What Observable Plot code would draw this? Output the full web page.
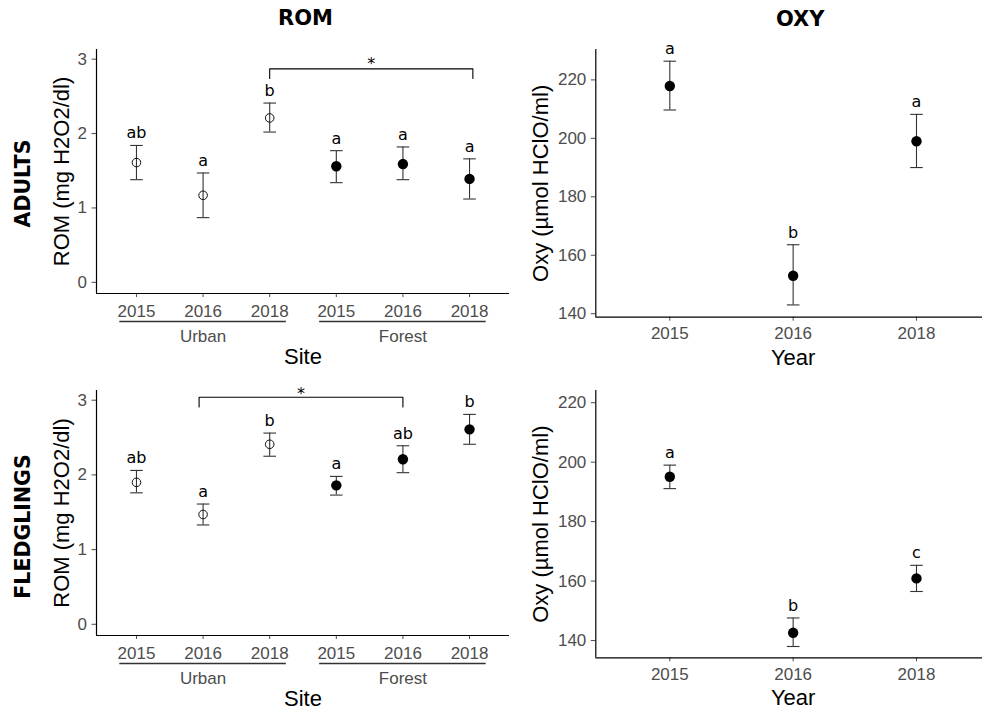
<!DOCTYPE html>
<html>
<head>
<meta charset="utf-8">
<script src="https://cdn.jsdelivr.net/npm/d3@7"></script>
<script src="https://cdn.jsdelivr.net/npm/@observablehq/plot@0.6"></script>
<style>
  html, body { margin: 0; padding: 0; background: #fff; overflow: hidden; }
  #chart { position: relative; width: 982px; height: 713px; overflow: hidden; background: #fff; }
  .panel { position: absolute; }
  .panel svg { max-width: none !important; }
</style>
</head>
<body>
<div id="chart"></div>
<script>
// ---------------- DATA ----------------
const romSites = ["Urban", "Urban", "Urban", "Forest", "Forest", "Forest"];
const romYears = ["2015", "2016", "2018", "2015", "2016", "2018"];

const adultsRomMean = [1.61, 1.17, 2.21, 1.56, 1.59, 1.39];
const adultsRomLow  = [1.38, 0.87, 2.02, 1.34, 1.38, 1.12];
const adultsRomHigh = [1.84, 1.47, 2.41, 1.77, 1.82, 1.66];
const adultsRomLetters = ["ab", "a", "b", "a", "a", "a"];

const fledgRomMean = [1.90, 1.47, 2.41, 1.86, 2.21, 2.61];
const fledgRomLow  = [1.76, 1.33, 2.25, 1.73, 2.03, 2.41];
const fledgRomHigh = [2.06, 1.61, 2.56, 1.98, 2.39, 2.81];
const fledgRomLetters = ["ab", "a", "b", "a", "ab", "b"];

const oxyYears = ["2015", "2016", "2018"];
const adultsOxyMean = [217.9, 153.0, 199.0];
const adultsOxyLow  = [209.7, 143.0, 190.0];
const adultsOxyHigh = [226.4, 163.6, 208.2];
const adultsOxyLetters = ["a", "b", "a"];

const fledgOxyMean = [195.1, 142.6, 160.9];
const fledgOxyLow  = [191.1, 138.0, 156.5];
const fledgOxyHigh = [199.0, 147.6, 165.3];
const fledgOxyLetters = ["a", "b", "c"];

// significance brackets (site positions 1..6)
const adultsBracket = {x1: 3, x2: 6.05, y: 2.87, tip: 2.74, starY: 3.00, label: "*"};
const fledgBracket  = {x1: 1.94, x2: 5, y: 3.04, tip: 2.91, starY: 3.14, label: "*"};

// site groups under the year labels
const groupNames = ["Urban", "Forest"];
const groupStart = [0.75, 3.75];
const groupEnd   = [3.25, 6.25];

const romTicks = [0, 1, 2, 3];
const oxyTicks = [140, 160, 180, 200, 220];

// ---------------- HELPERS ----------------
const SANS = "Liberation Sans, Arial, sans-serif";
const DEJA = "DejaVu Sans, Verdana, sans-serif";
const capSymbol = {
  draw(ctx, size) {
    const r = Math.sqrt(size / Math.PI);
    ctx.moveTo(-r, 0);
    ctx.lineTo(r, 0);
  }
};

function rows(sites, years, mean, low, high, letters) {
  return mean.map((m, i) => ({
    pos: i + 1, site: sites ? sites[i] : "Forest", year: years[i],
    mean: m, lo: low[i], hi: high[i], letter: letters[i]
  }));
}
function bracketPath(b) {
  return [
    {x: b.x1, y: b.tip}, {x: b.x1, y: b.y}, {x: b.x2, y: b.y}, {x: b.x2, y: b.tip}
  ];
}

function pointMarks(data) {
  return [
    Plot.ruleX(data, {x: "pos", y1: "lo", y2: "hi", stroke: "#333", strokeWidth: 1.1}),
    Plot.dot(data, {x: "pos", y: "hi", symbol: capSymbol, r: 6.3, fill: "none", stroke: "#333", strokeWidth: 1.1}),
    Plot.dot(data, {x: "pos", y: "lo", symbol: capSymbol, r: 6.3, fill: "none", stroke: "#333", strokeWidth: 1.1}),
    Plot.dot(data.filter(d => d.site === "Urban"), {x: "pos", y: "mean", r: 4.3, fill: "none", stroke: "#111", strokeWidth: 1}),
    Plot.dot(data.filter(d => d.site !== "Urban"), {x: "pos", y: "mean", r: 5.2, fill: "#000", stroke: "none"}),
    Plot.text(data, {x: "pos", y: "hi", text: "letter", lineAnchor: "bottom", dy: -7, fontSize: 16, fontFamily: DEJA, fill: "#000"})
  ];
}

const baseStyle = {fontFamily: SANS, fontSize: "17px", color: "#4d4d4d", background: "transparent", overflow: "visible", maxWidth: "none"};

function romPanel(data, bracket, opts) {
  const yDom = [-0.15, 3.13];
  const groups = groupNames.map((g, i) => ({site: g, start: groupStart[i], end: groupEnd[i]}));
  return Plot.plot({
    width: 510, height: opts.height,
    marginLeft: 96, marginRight: 1, marginTop: opts.top, marginBottom: opts.bottom,
    style: baseStyle,
    x: {domain: [0.4, 6.6], ticks: [1, 2, 3, 4, 5, 6], tickFormat: p => romYears[p - 1], tickSize: 4, tickPadding: 7, label: null},
    y: {domain: yDom, ticks: romTicks, tickFormat: d => String(d), tickSize: 4.5, tickPadding: 5, label: null},
    marks: [
      Plot.ruleX([0.4], {stroke: "#000", strokeWidth: 1.2}),
      Plot.ruleY([yDom[0]], {stroke: "#000", strokeWidth: 1.2}),
      ...pointMarks(data),
      Plot.line(bracketPath(bracket), {x: "x", y: "y", stroke: "#000", strokeWidth: 1.1}),
      Plot.text([bracket], {x: d => (d.x1 + d.x2) / 2, y: "starY", text: "label", lineAnchor: "bottom", dy: 9.4, fontSize: 16, fontFamily: DEJA, fill: "#000"}),
      Plot.ruleY(groups, {y: yDom[0], x1: "start", x2: "end", dy: 28, stroke: "#333", strokeWidth: 1.4}),
      Plot.text(groups, {x: d => (d.start + d.end) / 2, y: yDom[0], text: "site", lineAnchor: "top", dy: 36, fontSize: 17, fill: "#4d4d4d"}),
      Plot.text(["Site"], {frameAnchor: "bottom", text: d => d, textAnchor: "middle", lineAnchor: "top", dy: 55, fontSize: 22, fill: "#000"}),
      Plot.text(["ROM (mg H2O2/dl)"], {frameAnchor: "left", text: d => d, textAnchor: "middle", lineAnchor: "middle", rotate: -90, dx: -35, fontSize: 22, fill: "#000"}),
      Plot.text([opts.row], {frameAnchor: "left", text: d => d, textAnchor: "middle", lineAnchor: "middle", rotate: -90, dx: -73.5, dy: opts.rowDy, fontSize: 20.5, fontWeight: "bold", fontFamily: DEJA, fill: "#000"}),
      ...(opts.title ? [Plot.text([opts.title], {frameAnchor: "top", text: d => d, textAnchor: "middle", lineAnchor: "top", dy: -39, dx: 2.5, fontSize: 21, fontWeight: "bold", fontFamily: DEJA, fill: "#000"})] : [])
    ]
  });
}

function oxyPanel(data, yDom, opts) {
  return Plot.plot({
    width: 480, height: opts.height,
    marginLeft: 85.3, marginRight: 0, marginTop: opts.top, marginBottom: opts.bottom,
    style: baseStyle,
    x: {domain: [0.4, 3.6], ticks: [1, 2, 3], tickFormat: p => oxyYears[p - 1], tickSize: 4, tickPadding: 6, label: null},
    y: {domain: yDom, ticks: oxyTicks, tickFormat: d => String(d), tickSize: 4.5, tickPadding: 5, label: null},
    marks: [
      Plot.ruleX([0.4], {stroke: "#000", strokeWidth: 1.2}),
      Plot.ruleY([yDom[0]], {stroke: "#000", strokeWidth: 1.2}),
      ...pointMarks(data),
      Plot.text(["Year"], {frameAnchor: "bottom", text: d => d, textAnchor: "middle", lineAnchor: "top", dy: 32, fontSize: 22, fill: "#000"}),
      Plot.text(["Oxy (µmol HClO/ml)"], {frameAnchor: "left", text: d => d, textAnchor: "middle", lineAnchor: "middle", rotate: -90, dx: -55.3, fontSize: 22, fill: "#000"}),
      ...(opts.title ? [Plot.text([opts.title], {frameAnchor: "top", text: d => d, textAnchor: "middle", lineAnchor: "top", dy: -38, dx: 7, fontSize: 21, fontWeight: "bold", fontFamily: DEJA, fill: "#000"})] : [])
    ]
  });
}

// ---------------- BUILD ----------------
const chart = document.getElementById("chart");
function place(svg, left, top, w, h) {
  const div = document.createElement("div");
  div.className = "panel";
  div.style.left = left + "px";
  div.style.top = top + "px";
  div.style.width = w + "px";
  div.style.height = h + "px";
  div.appendChild(svg);
  chart.appendChild(div);
}

place(romPanel(rows(romSites, romYears, adultsRomMean, adultsRomLow, adultsRomHigh, adultsRomLetters), adultsBracket,
  {height: 370, top: 49, bottom: 77, row: "ADULTS", rowDy: 12, title: "ROM"}), 0, 0, 510, 370);
place(romPanel(rows(romSites, romYears, fledgRomMean, fledgRomLow, fledgRomHigh, fledgRomLetters), fledgBracket,
  {height: 343, top: 20, bottom: 78, row: "FLEDGLINGS", rowDy: 13.5, title: null}), 0, 370, 510, 343);
place(oxyPanel(rows(null, oxyYears, adultsOxyMean, adultsOxyLow, adultsOxyHigh, adultsOxyLetters), [138.8, 230.4],
  {height: 370, top: 49, bottom: 53.3, title: "OXY"}), 510, 0, 480, 370);
place(oxyPanel(rows(null, oxyYears, fledgOxyMean, fledgOxyLow, fledgOxyHigh, fledgOxyLetters), [134.2, 224.1],
  {height: 343, top: 20, bottom: 55.7, title: null}), 510, 370, 480, 343);
</script>
</body>
</html>
